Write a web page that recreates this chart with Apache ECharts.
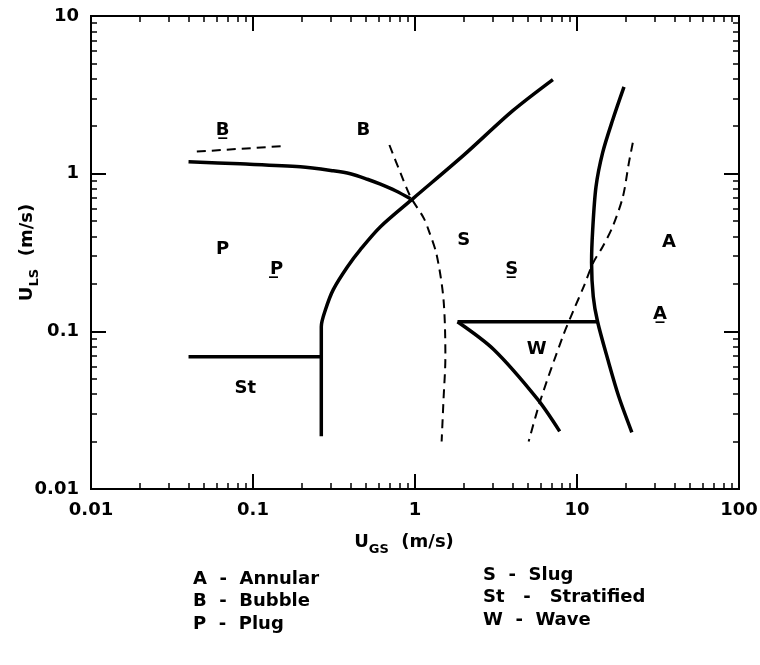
<!DOCTYPE html>
<html>
<head>
<meta charset="utf-8">
<script src="https://cdn.jsdelivr.net/npm/echarts@6/dist/echarts.min.js"></script>
<style>html,body{margin:0;padding:0;background:#fff}#c{width:760px;height:665px}</style>
</head>
<body>
<div id="c"></div>
<script>
// ---- data (UGS m/s, ULS m/s) ----
var bubblePlugSolid = [[0.04,1.19],[0.0833,1.155],[0.196,1.106],[0.313,1.043],[0.399,0.999],[0.508,0.922],[0.612,0.857],[0.758,0.779],[0.938,0.693]];
var plugSlugSolid = [[0.264,0.0216],[0.264,0.107],[0.28,0.137],[0.313,0.184],[0.383,0.257],[0.46,0.33],[0.612,0.461],[0.98,0.70],[2.0,1.31],[4.0,2.5],[7.1,3.95]];
var stratSolid = [[0.04,0.069],[0.264,0.069]];
var waveTop = [[1.83,0.115],[13.4,0.115]];
var waveLower = [[1.83,0.115],[3.06,0.0767],[5.72,0.037],[7.82,0.0232]];
var annularSolid = [[19.5,3.55],[16.6,2.19],[14.4,1.36],[13.1,0.826],[12.5,0.441],[12.3,0.273],[12.6,0.166],[13.4,0.115],[15.5,0.0662],[18.1,0.0386],[21.8,0.0229]];
var bubbleDashTop = [[0.045,1.38],[0.16,1.50]];
var bubbleSlugDash = [[0.695,1.52],[0.813,1.013],[0.938,0.714],[1.129,0.526],[1.21,0.442],[1.36,0.306],[1.50,0.159],[1.54,0.069],[1.50,0.037],[1.46,0.020]];
var annularDash = [[22.1,1.57],[20.9,1.17],[19.2,0.714],[16.6,0.461],[14.4,0.344],[12.6,0.273],[11.0,0.192],[9.55,0.137],[8.17,0.0927],[5.97,0.037],[5.03,0.020]];

var regionNames = ['B\u0332','B','P','P\u0332','St','S','S\u0332','W','A','A\u0332'];
var regionX = [0.065,0.48,0.065,0.14,0.0895,2.0,3.95,5.64,36.9,32.5];
var regionY = [1.87,1.87,0.33,0.246,0.0435,0.38,0.246,0.0767,0.365,0.128];

var xMajor = [0.01,0.1,1,10,100];
var yMajor = [0.01,0.1,1,10];
var xMinor = [0.02,0.03,0.04,0.05,0.06,0.07,0.08,0.09,0.2,0.3,0.4,0.5,0.6,0.7,0.8,0.9,2,3,4,5,6,7,8,9,20,30,40,50,60,70,80,90];
var yMinor = [0.02,0.03,0.04,0.05,0.06,0.07,0.08,0.09,0.2,0.3,0.4,0.5,0.6,0.7,0.8,0.9,2,3,4,5,6,7,8,9];

var legendLeft = ['A  -  Annular','B  -  Bubble','P  -  Plug'];
var legendRight = ['S  -  Slug','St   -   Stratified','W  -  Wave'];

// ---- chart ----
var FONT = 'DejaVu Sans';
var chart = echarts.init(document.getElementById('c'));

function axisSet(kind, pos, major, minor, min, max, showLabel, name) {
  var base = {
    type: 'log', logBase: 10, min: min, max: max, position: pos,
    splitLine: {show: false}, minorTick: {show: false},
    axisLine: {show: true, onZero: false, lineStyle: {color: '#000', width: 2}}
  };
  var a = Object.assign({}, base, {
    axisTick: {show: true, inside: true, length: 15, lineStyle: {color: '#000', width: 2}, customValues: major},
    axisLabel: {show: showLabel, customValues: major, color: '#000', fontFamily: FONT, fontWeight: 'bold', fontSize: 18, margin: 12,
      formatter: function (v) { return String(v); }}
  });
  if (name) Object.assign(a, name);
  var b = Object.assign({}, base, {
    axisTick: {show: true, inside: true, length: 6, lineStyle: {color: '#000', width: 1.5}, customValues: minor},
    axisLabel: {show: false}
  });
  return [a, b];
}

var rich = {
  u: {fontFamily: FONT, fontWeight: 'bold', fontSize: 18, color: '#000'},
  s: {fontFamily: FONT, fontWeight: 'bold', fontSize: 13, color: '#000', padding: [14, 0, 0, 0]}
};

var xAxes = [].concat(
  axisSet('x', 'bottom', xMajor, xMinor, 0.01, 100, true,
    {name: '{u|U}{s|GS}{u|  (m/s)}', nameLocation: 'middle', nameGap: 40, nameMoveOverlap: false,
     nameTextStyle: {rich: rich, padding: [0, 22, 0, 0]}}),
  axisSet('x', 'top', xMajor, xMinor, 0.01, 100, false)
);
var yAxes = [].concat(
  axisSet('y', 'left', yMajor, yMinor, 0.01, 10, true,
    {name: '{u|U}{s|LS}{u|  (m/s)}', nameLocation: 'middle', nameGap: 50, nameMoveOverlap: false, nameTextStyle: {rich: rich}}),
  axisSet('y', 'right', yMajor, yMinor, 0.01, 10, false)
);

function solid(d, smooth) {
  return {type: 'line', data: d, xAxisIndex: 0, yAxisIndex: 0, showSymbol: false, symbol: 'none',
    smooth: smooth, lineStyle: {color: '#000', width: 3.5}, silent: true, animation: false};
}
function dashed(d, smooth) {
  return {type: 'line', data: d, xAxisIndex: 0, yAxisIndex: 0, showSymbol: false, symbol: 'none',
    smooth: smooth, lineStyle: {color: '#000', width: 2, type: [9, 6]}, silent: true, animation: false};
}

var labelData = regionNames.map(function (n, i) { return {name: n, value: [regionX[i], regionY[i]]}; });

chart.setOption({
  animation: false,
  backgroundColor: '#fff',
  grid: {left: 91, right: 21, top: 16, bottom: 176, containLabel: false, outerBoundsMode: 'none'},
  xAxis: xAxes,
  yAxis: yAxes,
  series: [
    solid(bubblePlugSolid, 0.3),
    solid(plugSlugSolid, 0.3),
    solid(stratSolid, false),
    solid(waveTop, false),
    solid(waveLower, 0.3),
    solid(annularSolid, 0.3),
    dashed(bubbleDashTop, false),
    dashed(bubbleSlugDash, 0.3),
    dashed(annularDash, 0.3),
    {type: 'scatter', data: labelData, xAxisIndex: 0, yAxisIndex: 0, symbolSize: 1, silent: true,
      itemStyle: {color: 'rgba(0,0,0,0)', opacity: 1},
      label: {show: true, position: 'inside', formatter: function (p) { return p.name; },
        color: '#000', opacity: 1, textBorderWidth: 0, fontFamily: FONT, fontWeight: 'bold', fontSize: 18}}
  ],
  graphic: legendLeft.map(function (t, i) {
    return {type: 'text', left: 193, top: 570 + i * 22.5, style: {text: t, fill: '#000', font: 'bold 18px "DejaVu Sans"'}};
  }).concat(legendRight.map(function (t, i) {
    return {type: 'text', left: 483, top: 566 + i * 22.5, style: {text: t, fill: '#000', font: 'bold 18px "DejaVu Sans"'}};
  }))
});
</script>
</body>
</html>
